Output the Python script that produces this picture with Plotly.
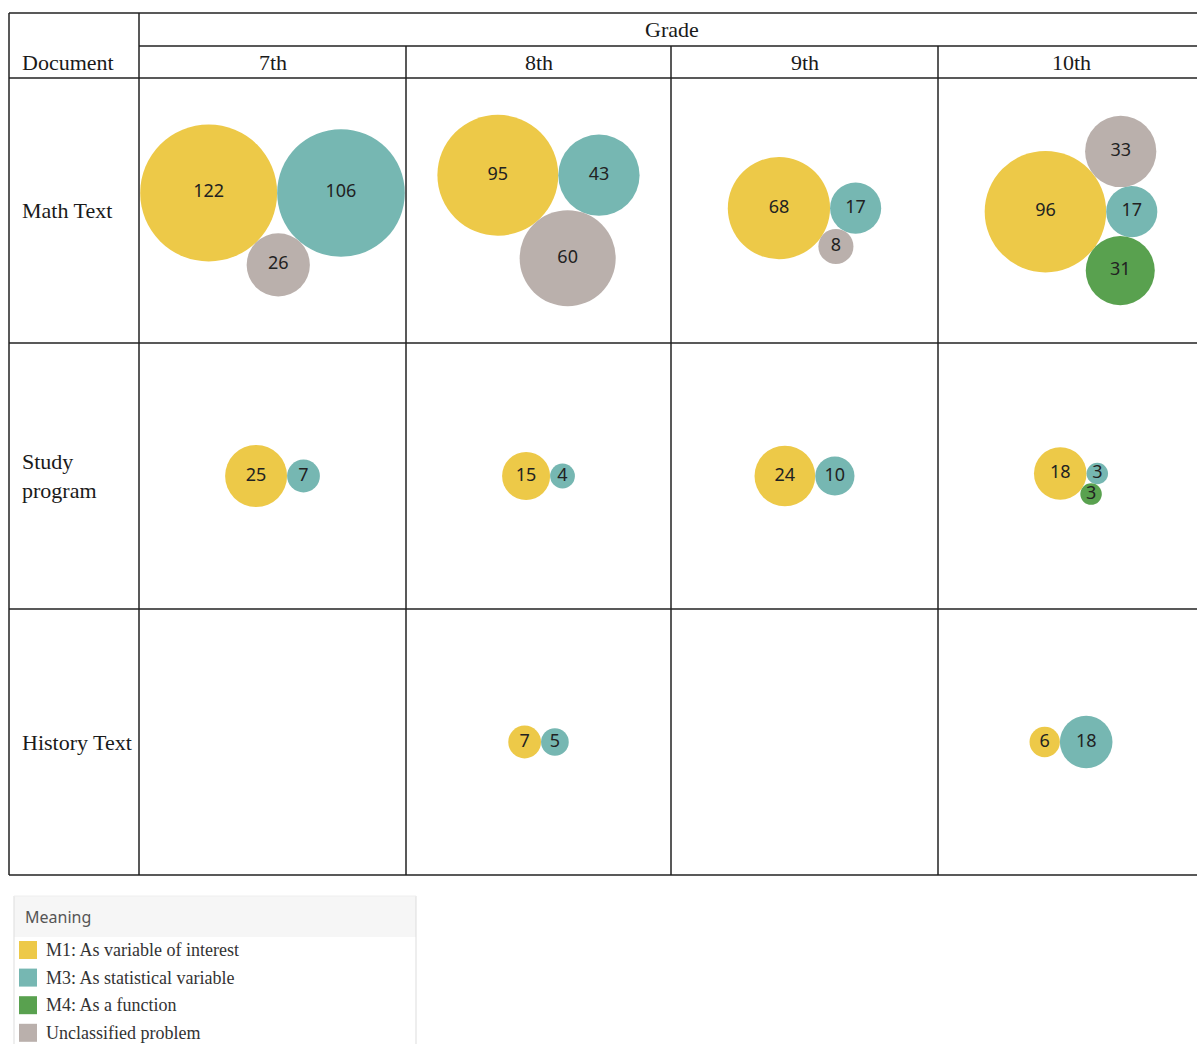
import math
import plotly.graph_objects as go

# ---------------- data ----------------
grades = ["7th", "8th", "9th", "10th"]
documents = ["Math Text", "Study<br>program", "History Text"]
meanings = ["M1: As variable of interest", "M3: As statistical variable",
            "M4: As a function", "Unclassified problem"]
colors = ["#EDC948", "#76B7B2", "#59A14F", "#BAB0AC"]

# counts per grade (7th, 8th, 9th, 10th); 0 = no bubble
math_m1 = [122, 95, 68, 96]
math_m3 = [106, 43, 17, 17]
math_m4 = [0, 0, 0, 31]
math_un = [26, 60, 8, 33]

study_m1 = [25, 15, 24, 18]
study_m3 = [7, 4, 10, 3]
study_m4 = [0, 0, 0, 3]
study_un = [0, 0, 0, 0]

hist_m1 = [0, 7, 0, 6]
hist_m3 = [0, 5, 0, 18]
hist_m4 = [0, 0, 0, 0]
hist_un = [0, 0, 0, 0]

table = [
    [math_m1, math_m3, math_m4, math_un],
    [study_m1, study_m3, study_m4, study_un],
    [hist_m1, hist_m3, hist_m4, hist_un],
]

# ---------------- layout constants (pixels) ----------------
W, H = 1197, 1044
col_edges = [139, 406, 671, 938, 1204]
row_edges = [78, 343, 609, 875]
left_edge, top_edge, sub_header = 9, 13, 46
PX_PER_SQRT = 12.4  # bubble diameter = PX_PER_SQRT * sqrt(value)


def radius(v):
    return PX_PER_SQRT * math.sqrt(v) / 2


def between(a, b, r, below=True):
    (ax, ay, ra), (bx, by, rb) = a, b
    da, db = ra + r, rb + r
    dx, dy = bx - ax, by - ay
    d = math.hypot(dx, dy)
    aa = (da * da - db * db + d * d) / (2 * d)
    h = math.sqrt(max(da * da - aa * aa, 0))
    px, py = ax + aa * dx / d, ay + aa * dy / d
    nx, ny = -dy / d, dx / d
    s = 1 if below else -1
    return (px + s * h * nx, py + s * h * ny, r)


def pack(vals):
    """vals: [m1, m3, m4, un]; returns dict meaning-index -> (x, y, r) relative."""
    placed = {}
    if not vals[0]:
        return placed
    placed[0] = (0.0, 0.0, radius(vals[0]))
    if vals[1]:
        r = radius(vals[1])
        placed[1] = (placed[0][2] + r, 0.0, r)
    if vals[2] and 1 in placed:
        placed[2] = between(placed[0], placed[1], radius(vals[2]), below=True)
    if vals[3] and 1 in placed:
        placed[3] = between(placed[0], placed[1], radius(vals[3]),
                            below=not bool(vals[2]))
    return placed


xs = [[] for _ in meanings]
ys = [[] for _ in meanings]
vs = [[] for _ in meanings]
for ri, doc in enumerate(table):
    cy = (row_edges[ri] + row_edges[ri + 1]) / 2
    for ci in range(len(grades)):
        vals = [doc[m][ci] for m in range(len(meanings))]
        p = pack(vals)
        if not p:
            continue
        x0 = min(c[0] - c[2] for c in p.values())
        x1 = max(c[0] + c[2] for c in p.values())
        y0 = min(c[1] - c[2] for c in p.values())
        y1 = max(c[1] + c[2] for c in p.values())
        cx = (col_edges[ci] + col_edges[ci + 1]) / 2
        ox, oy = cx - (x0 + x1) / 2, cy - (y0 + y1) / 2
        for m, (x, y, r) in p.items():
            xs[m].append(x + ox)
            ys[m].append(y + oy)
            vs[m].append(vals[m])

fig = go.Figure()
for m in range(len(meanings)):
    fig.add_trace(go.Scatter(
        x=xs[m], y=ys[m], mode="markers+text", name=meanings[m],
        text=[str(v) for v in vs[m]], textposition="middle center",
        textfont=dict(family="Noto Sans", size=18, color="#222222"),
        marker=dict(size=vs[m], sizemode="area", sizeref=2 / PX_PER_SQRT ** 2,
                    color=colors[m], line=dict(width=0), opacity=1),
        showlegend=False, hoverinfo="text",
    ))

# ---------------- table grid ----------------
line_style = dict(color="#222222", width=1.5)
shapes = []


def hline(y, x0, x1):
    shapes.append(dict(type="line", xref="x", yref="y", x0=x0, x1=x1, y0=y, y1=y, line=line_style))


def vline(x, y0, y1):
    shapes.append(dict(type="line", xref="x", yref="y", x0=x, x1=x, y0=y0, y1=y1, line=line_style))


hline(top_edge, left_edge, col_edges[-1])
hline(sub_header, col_edges[0], col_edges[-1])
for y in row_edges:
    hline(y, left_edge, col_edges[-1])
vline(left_edge, top_edge, row_edges[-1])
vline(col_edges[0], top_edge, row_edges[-1])
for x in col_edges[1:-1]:
    vline(x, sub_header, row_edges[-1])

serif = dict(family="Liberation Serif", size=22, color="#1a1a1a")
ann = []
ann.append(dict(x=(col_edges[0] + col_edges[-1]) / 2, y=(top_edge + sub_header) / 2,
                text="Grade", showarrow=False, font=serif, xanchor="center", yanchor="middle"))
ann.append(dict(x=20, y=(sub_header + row_edges[0]) / 2, text="Document", showarrow=False,
                font=serif, xanchor="left", yanchor="middle"))
for ci, g in enumerate(grades):
    ann.append(dict(x=(col_edges[ci] + col_edges[ci + 1]) / 2, y=(sub_header + row_edges[0]) / 2,
                    text=g, showarrow=False, font=serif, xanchor="center", yanchor="middle"))
for ri, d in enumerate(documents):
    ann.append(dict(x=20, y=(row_edges[ri] + row_edges[ri + 1]) / 2, text=d, showarrow=False,
                    font=serif, xanchor="left", yanchor="middle", align="left"))

# ---------------- legend (manual) ----------------
lg_x0, lg_x1, lg_top, lg_head = 14, 416, 896, 937
shapes.append(dict(type="rect", xref="x", yref="y", x0=lg_x0, x1=lg_x1, y0=lg_top, y1=lg_head,
                   fillcolor="#f6f6f6", line=dict(width=0), layer="below"))
for x in (lg_x0, lg_x1):
    shapes.append(dict(type="line", xref="x", yref="y", x0=x, x1=x, y0=lg_top, y1=H + 5,
                       line=dict(color="#dddddd", width=1)))
shapes.append(dict(type="line", xref="x", yref="y", x0=lg_x0, x1=lg_x1, y0=lg_top, y1=lg_top,
                   line=dict(color="#eeeeee", width=1)))
ann.append(dict(x=23, y=(lg_top + lg_head) / 2, text="Meaning", showarrow=False,
                font=dict(family="Noto Sans", size=16, color="#555555"),
                xanchor="left", yanchor="middle"))
item_y0, item_step, sw = 950, 27.6, 18
for i, (lab, col) in enumerate(zip(meanings, colors)):
    yc = item_y0 + i * item_step
    shapes.append(dict(type="rect", xref="x", yref="y", x0=19, x1=19 + sw, y0=yc - sw / 2,
                       y1=yc + sw / 2, fillcolor=col, line=dict(width=0)))
    ann.append(dict(x=44, y=yc, text=lab, showarrow=False,
                    font=dict(family="Liberation Serif", size=18, color="#333333"),
                    xanchor="left", yanchor="middle"))

fig.update_layout(
    width=W, height=H, margin=dict(l=0, r=0, t=0, b=0),
    paper_bgcolor="white", plot_bgcolor="white",
    xaxis=dict(range=[0, W], visible=False, fixedrange=True),
    yaxis=dict(range=[H, 0], visible=False, fixedrange=True),
    shapes=shapes, annotations=ann, showlegend=False,
)
fig.write_html("out.html", config={"displayModeBar": False},
               post_script="document.body.style.margin='0';document.body.style.overflow='hidden';")
